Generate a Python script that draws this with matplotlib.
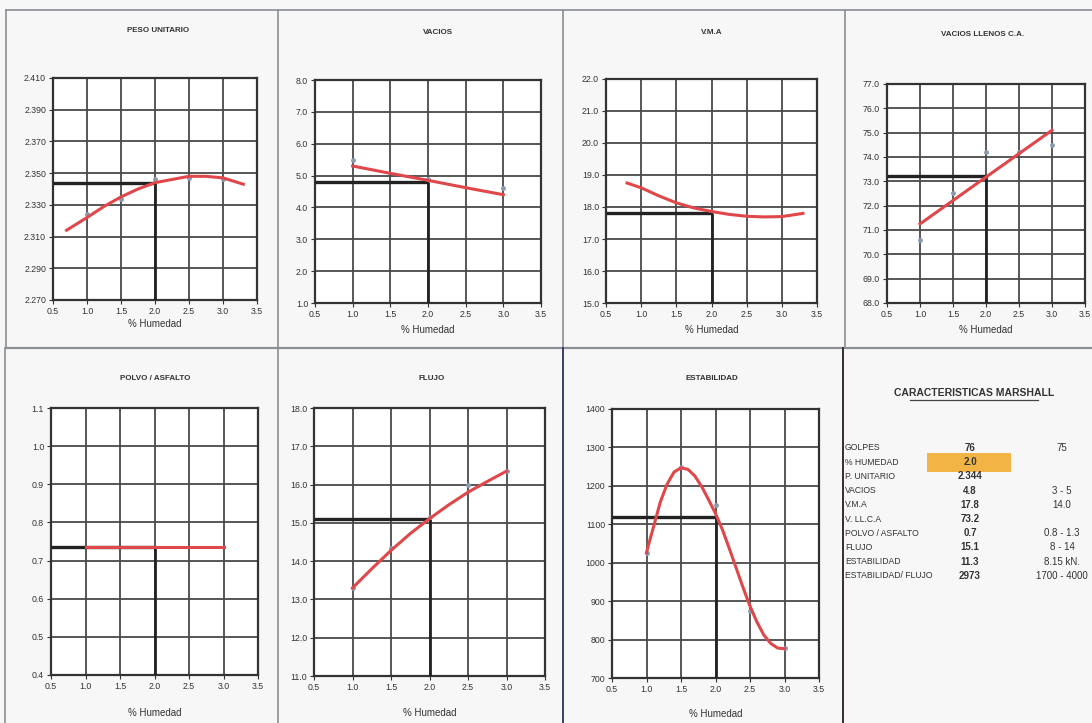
import matplotlib
matplotlib.use("Agg")
import matplotlib.pyplot as plt
from matplotlib.lines import Line2D
from matplotlib.patches import Rectangle

plt.rcParams['font.family'] = ['Liberation Sans Narrow', 'Liberation Sans', 'DejaVu Sans']

W, H = 1092, 723

# % humedad del diseño
x_opt = 2.0

# ---- datos ----
# PESO UNITARIO
pu_pts_x = [1.0, 1.5, 2.0, 2.5, 3.0]
pu_pts_y = [2.324, 2.334, 2.346, 2.347, 2.346]
pu_curve_x = [0.7, 1.0, 1.25, 1.5, 1.75, 2.0, 2.25, 2.5, 2.75, 3.0, 3.3]
pu_curve_y = [2.314, 2.322, 2.329, 2.335, 2.340, 2.344, 2.346, 2.348, 2.348, 2.347, 2.343]
pu_opt = 2.344

# VACIOS
va_pts_x = [1.0, 2.0, 3.0]
va_pts_y = [5.5, 4.9, 4.6]
va_curve_x = [1.0, 1.5, 2.0, 2.5, 3.0]
va_curve_y = [5.3, 5.07, 4.85, 4.62, 4.4]
va_opt = 4.8

# V.M.A
vma_curve_x = [0.8, 1.0, 1.25, 1.5, 1.75, 2.0, 2.25, 2.5, 2.75, 3.0, 3.3]
vma_curve_y = [18.75, 18.6, 18.35, 18.13, 17.97, 17.86, 17.77, 17.71, 17.69, 17.7, 17.8]
vma_opt = 17.8

# VACIOS LLENOS C.A.
vll_pts_x = [1.0, 1.5, 2.0, 2.5, 3.0]
vll_pts_y = [70.6, 72.5, 74.2, 74.2, 74.5]
vll_curve_x = [1.0, 3.0]
vll_curve_y = [71.25, 75.1]
vll_opt = 73.2

# POLVO / ASFALTO
pa_curve_x = [1.0, 3.0]
pa_curve_y = [0.735, 0.735]
pa_opt = 0.735

# FLUJO
fl_pts_x = [1.0, 1.5, 2.0, 2.5, 3.0]
fl_pts_y = [13.3, 14.35, 15.15, 16.0, 16.35]
fl_curve_x = [1.0, 1.25, 1.5, 1.75, 2.0, 2.25, 2.5, 2.75, 3.0]
fl_curve_y = [13.3, 13.8, 14.28, 14.72, 15.11, 15.47, 15.8, 16.08, 16.35]
fl_opt = 15.1

# ESTABILIDAD
es_pts_x = [1.0, 1.5, 2.0, 2.5, 3.0]
es_pts_y = [1025, 1250, 1150, 875, 778]
es_curve_x = [1.0, 1.05, 1.1, 1.15, 1.2, 1.3, 1.4, 1.5, 1.6, 1.7, 1.8, 1.9, 2.0,
              2.1, 2.2, 2.3, 2.4, 2.5, 2.6, 2.7, 2.8, 2.9, 3.0]
es_curve_y = [1026, 1060, 1092, 1125, 1158, 1205, 1236, 1247, 1243, 1226, 1198, 1164, 1128,
              1086, 1037, 986, 935, 887, 846, 812, 790, 778, 776]
es_opt = 1120

# tabla
tab_labels = ["GOLPES", "% HUMEDAD", "P. UNITARIO", "VACIOS", "V.M.A", "V. LL.C.A",
              "POLVO / ASFALTO", "FLUJO", "ESTABILIDAD", "ESTABILIDAD/ FLUJO"]
tab_values = ["76", "2.0", "2.344", "4.8", "17.8", "73.2", "0.7", "15.1", "11.3", "2973"]
tab_specs = ["75", "", "", "3 - 5", "14.0", "", "0.8 - 1.3", "8 - 14", "8.15 kN.", "1700 - 4000"]

xticks = [0.5, 1.0, 1.5, 2.0, 2.5, 3.0, 3.5]

fig = plt.figure(figsize=(W / 100, H / 100), dpi=100)
fig.patch.set_facecolor('#f6f7f6')

RED = '#e0474a'
BLK = '#222222'


def px_axes(l, t, r, b):
    return fig.add_axes([l / W, 1 - b / H, (r - l) / W, (b - t) / H])


def panel(box, title, title_xy, xlabel_y, ylim, ystep, yfmt,
          cx, cy, opt, px=None, py=None):
    ax = px_axes(*box)
    ax.set_facecolor('white')
    ax.set_xlim(0.5, 3.5)
    ax.set_ylim(*ylim)
    ax.set_xticks(xticks)
    ax.set_xticklabels([f"{v:.1f}" for v in xticks])
    n = int(round((ylim[1] - ylim[0]) / ystep))
    yt = [ylim[0] + i * ystep for i in range(n + 1)]
    ax.set_yticks(yt)
    ax.set_yticklabels([yfmt.format(v) for v in yt])
    ax.grid(True, color='#4a4a4a', lw=1.3)
    ax.set_axisbelow(True)
    for s in ax.spines.values():
        s.set_color('#333333')
        s.set_linewidth(1.6)
    ax.tick_params(labelsize=6.3, length=3, width=0.8, pad=2, colors='#333333')
    # lineas de lectura
    ax.plot([0.5, x_opt], [opt, opt], color=BLK, lw=2.4, solid_capstyle='butt', zorder=3)
    ax.plot([x_opt, x_opt], [ylim[0], opt], color=BLK, lw=2.0, solid_capstyle='butt', zorder=3)
    if px is not None:
        ax.plot(px, py, 'o', ms=2.5, color='#8a9bb0', zorder=4)
    ax.plot(cx, cy, color=RED, lw=2.2, zorder=5, solid_joinstyle='round')
    fig.text(title_xy[0] / W, 1 - title_xy[1] / H, title, ha='center', va='center',
             fontsize=5.8, fontweight='bold', color='#333333')
    cxp = (box[0] + box[2]) / 2
    fig.text(cxp / W, 1 - xlabel_y / H, "% Humedad", ha='center', va='center',
             fontsize=7, color='#333333')
    return ax


panel((53, 78, 257, 300), "PESO UNITARIO", (158, 30), 324, (2.270, 2.410), 0.020, "{:.3f}",
      pu_curve_x, pu_curve_y, pu_opt, pu_pts_x, pu_pts_y)
panel((315, 80, 541, 303), "VACIOS", (438, 32), 330, (1.0, 8.0), 1.0, "{:.1f}",
      va_curve_x, va_curve_y, va_opt, va_pts_x, va_pts_y)
panel((606, 79, 817, 303), "V.M.A", (712, 33), 330, (15.0, 22.0), 1.0, "{:.1f}",
      vma_curve_x, vma_curve_y, vma_opt)
panel((887, 84, 1085, 303), "VACIOS LLENOS C.A.", (983, 35), 330, (68.0, 77.0), 1.0, "{:.1f}",
      vll_curve_x, vll_curve_y, vll_opt, vll_pts_x, vll_pts_y)
panel((51, 408, 258, 675), "POLVO / ASFALTO", (155, 378), 713, (0.4, 1.1), 0.1, "{:.1f}",
      pa_curve_x, pa_curve_y, pa_opt)
panel((314, 408, 545, 676), "FLUJO", (432, 378), 713, (11.0, 18.0), 1.0, "{:.1f}",
      fl_curve_x, fl_curve_y, fl_opt, fl_pts_x, fl_pts_y)
panel((612, 409, 819, 678), "ESTABILIDAD", (712, 378), 714, (700, 1400), 100, "{:.0f}",
      es_curve_x, es_curve_y, es_opt, es_pts_x, es_pts_y)

# bordes de los cuadros
def fline(x0, y0, x1, y1, c='#8a8f96', lw=1.2):
    fig.add_artist(Line2D([x0 / W, x1 / W], [1 - y0 / H, 1 - y1 / H], color=c, lw=lw))


fline(6, 10, 1092, 10)
fline(6, 348, 1092, 348, lw=1.6)
for xb in [6, 278, 563, 845]:
    fline(xb, 10, xb, 348)
for xb in [5, 278]:
    fline(xb, 348, xb, 723)
fline(563, 348, 563, 723, c='#3a3f6a', lw=1.4)
fline(843, 348, 843, 723, c='#3a2a30', lw=1.4)

# tabla marshall
fig.text(974 / W, 1 - 393 / H, "CARACTERISTICAS MARSHALL", ha='center', va='center',
         fontsize=7.5, fontweight='bold', color='#333333')
fline(910, 400, 1038, 400, c='#444444', lw=0.9)

fig.add_artist(Rectangle((927 / W, 1 - 472 / H), (1011 - 927) / W, (472 - 453) / H,
                         transform=fig.transFigure, facecolor='#f2b444', edgecolor='none'))

row_y0, row_dy = 448, 14.2
for i, (lab, val, spec) in enumerate(zip(tab_labels, tab_values, tab_specs)):
    y = 1 - (row_y0 + i * row_dy) / H
    fig.text(845 / W, y, lab, ha='left', va='center', fontsize=6.2, color='#333333')
    fig.text(970 / W, y, val, ha='center', va='center', fontsize=7, fontweight='bold',
             color='#333333')
    fig.text(1062 / W, y, spec, ha='center', va='center', fontsize=7, color='#333333')

fig.savefig("out.png", dpi=100, facecolor=fig.get_facecolor())
